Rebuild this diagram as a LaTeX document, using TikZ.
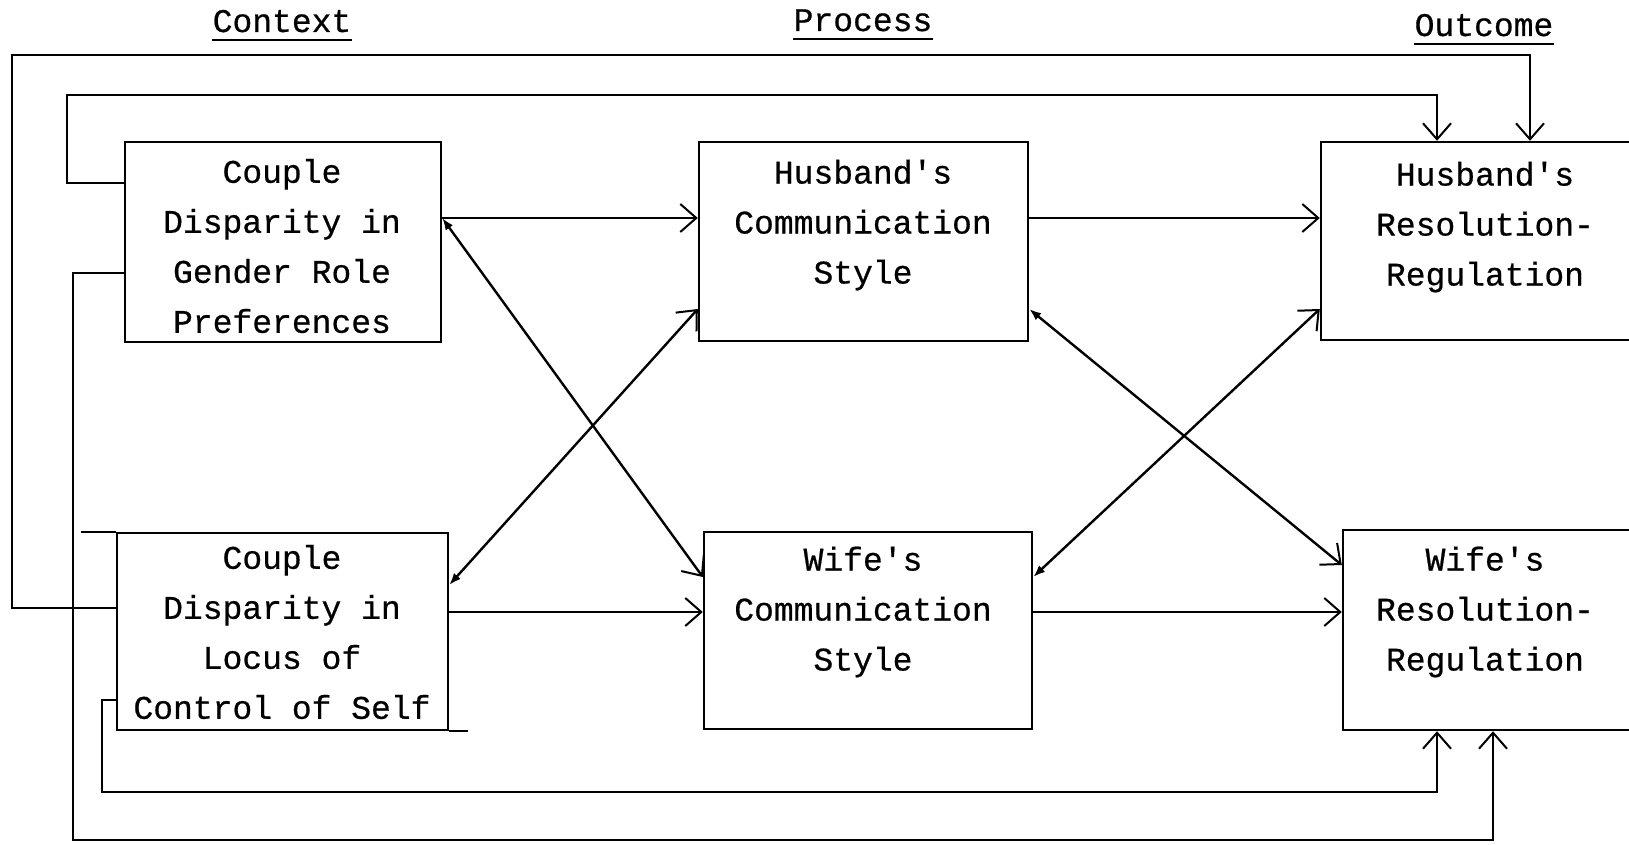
\documentclass[tikz,border=0pt]{standalone}
\usepackage{fontspec}
\setmonofont[FakeBold=0.6]{Liberation Mono}
\usetikzlibrary{arrows.meta}
\tikzset{
  ln/.style={line width=1.2pt, line join=miter},
  box/.style={draw, line width=1.2pt, inner sep=0pt, anchor=center},
  txt/.style={font=\ttfamily\fontsize{16.5pt}{25pt}\selectfont, align=center, inner sep=0pt},
  hdr/.style={font=\ttfamily\fontsize{16.5pt}{25pt}\selectfont, inner sep=0pt, anchor=base},
  arr/.style={ln, -{Straight Barb[length=8pt,width=14pt,line width=1pt]}},
  darr/.style={ln, {Latex[length=6pt,width=4.5pt]}-{Straight Barb[length=8pt,width=14pt,line width=1pt]}},
}
\begin{document}
\begin{tikzpicture}[x=0.5pt, y=-0.5pt]
\path[use as bounding box, clip] (0,0) rectangle (1629,845);
\fill[white] (0,0) rectangle (1629,845);

% headers
\node[hdr] (ctx) at (282,32) {Context};
\node[hdr] (prc) at (863,31) {Process};
\node[hdr] (out) at (1484,36) {Outcome};
\foreach \h in {ctx,prc,out}
  \draw[line width=0.9pt] ([yshift=-4pt]\h.base west) -- ([yshift=-4pt]\h.base east);

% boxes
\node[box, minimum width=158pt, minimum height=100pt] (b1) at (283,242) {};
\node[box, minimum width=165.5pt, minimum height=98.5pt] (b3) at (282.5,631.5) {};
\node[box, minimum width=164.5pt, minimum height=99.5pt] (hc) at (863.5,241.5) {};
\node[box, minimum width=164pt, minimum height=98.5pt] (wc) at (868,630.5) {};
\node[box, minimum width=165pt, minimum height=99pt] (hr) at (1486,241) {};
\node[box, minimum width=165pt, minimum height=100pt] (wr) at (1508,630) {};

% box texts
\node[txt] (b1t) at (282,246) {Couple\\Disparity in\\Gender Role\\Preferences};
\node[txt] (b3t) at (282,632) {Couple\\Disparity in\\Locus of\\Control of Self};
\node[txt] (hct) at (863,225) {Husband's\\Communication\\Style};
\node[txt] (wct) at (863,612) {Wife's\\Communication\\Style};
\node[txt] (hrt) at (1485,227) {Husband's\\Resolution-\\Regulation};
\node[txt] (wrt) at (1485,612) {Wife's\\Resolution-\\Regulation};

% hand-drawn line overhangs of the locus box
\draw[ln] (b3.north west) -- ++(-35,0);
\draw[ln] (b3.south east) -- ++(19,0);

% row coordinates
\coordinate (y218) at (0,218);
\coordinate (y309) at (0,309);
\coordinate (y565) at (0,565);
\coordinate (y577) at (0,577);
\coordinate (y585) at (0,585);
\coordinate (y612) at (0,612);

% horizontal arrows
\draw[arr] (b1.east |- y218) -- (hc.west |- y218);
\draw[arr] (hc.east |- y218) -- (hr.west |- y218);
\draw[arr] (b3.east |- y612) -- (wc.west |- y612);
\draw[arr] (wc.east |- y612) -- (wr.west |- y612);

% diagonal arrows
\draw[darr] (b1.east |- y218) -- (wc.west |- y577);
\draw[darr] (b3.east |- y585) -- (hc.west |- y309);
\draw[darr] (hc.east |- y309) -- (wr.west |- y565);
\draw[darr] (wc.east |- y577) -- (hr.west |- y309);

% feedback loops
\coordinate (L1a) at (12,608);  \coordinate (L1b) at (12,55);  \coordinate (L1c) at (1530,55);
\draw[arr] (b3.west |- L1a) -- (L1a) -- (L1b) -- (L1c) -- (hr.north -| L1c);

\coordinate (L2a) at (67,183);  \coordinate (L2b) at (67,95);  \coordinate (L2c) at (1437,95);
\draw[arr] (b1.west |- L2a) -- (L2a) -- (L2b) -- (L2c) -- (hr.north -| L2c);

\coordinate (L3a) at (73,273);  \coordinate (L3b) at (73,840); \coordinate (L3c) at (1493,840);
\draw[arr] (b1.west |- L3a) -- (L3a) -- (L3b) -- (L3c) -- (wr.south -| L3c);

\coordinate (L4a) at (102,700); \coordinate (L4b) at (102,792); \coordinate (L4c) at (1437,792);
\draw[arr] (b3.west |- L4a) -- (L4a) -- (L4b) -- (L4c) -- (wr.south -| L4c);
\end{tikzpicture}
\end{document}
